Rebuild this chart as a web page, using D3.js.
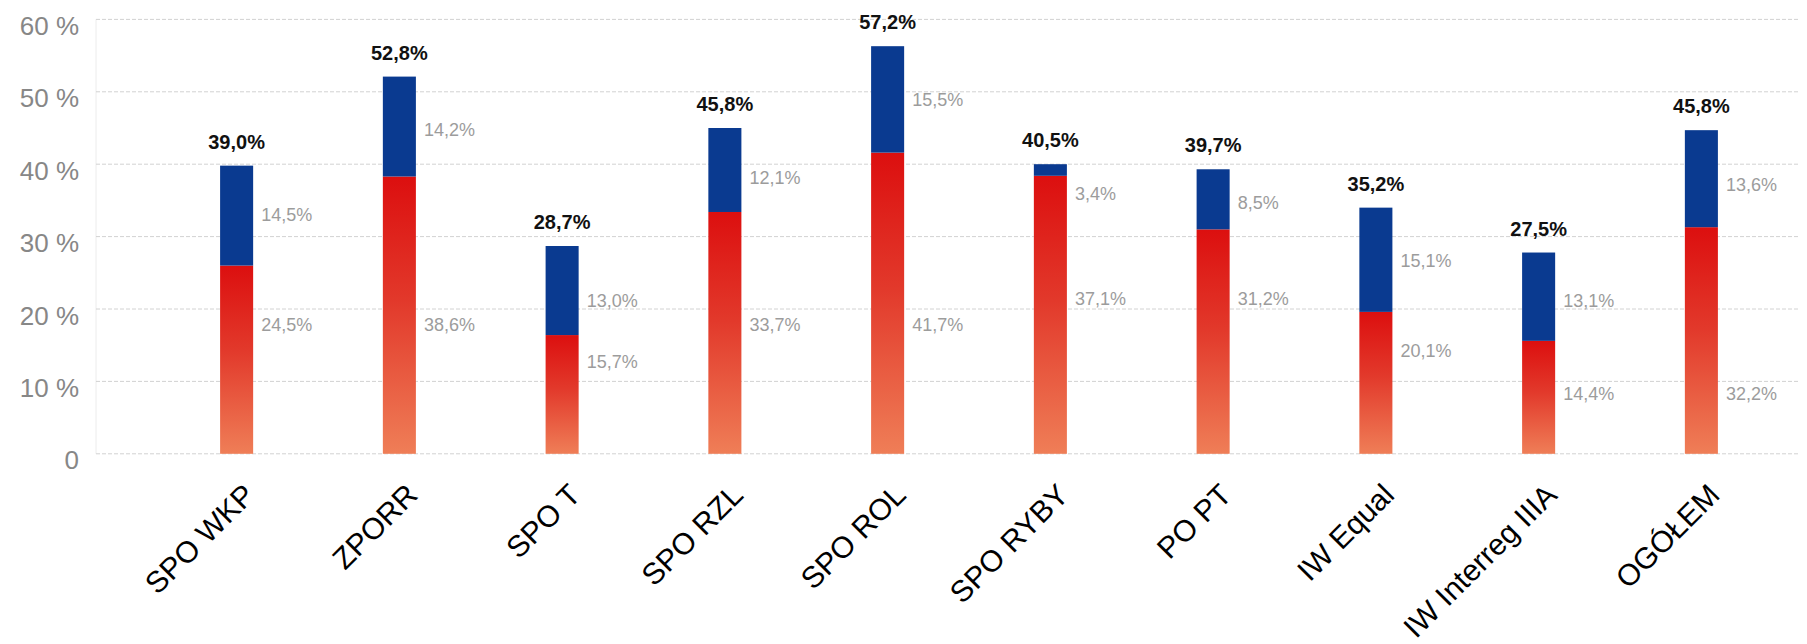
<!DOCTYPE html>
<html>
<head>
<meta charset="utf-8">
<script src="https://cdn.jsdelivr.net/npm/d3@7"></script>
<style>
  html, body { margin: 0; padding: 0; background: #fff; }
  svg { display: block; font-family: "Liberation Sans", Arial, sans-serif; }
</style>
</head>
<body>
<div id="chart"></div>
<script>
const categories = ["SPO WKP", "ZPORR", "SPO T", "SPO RZL", "SPO ROL", "SPO RYBY", "PO PT", "IW Equal", "IW Interreg IIIA", "OGÓŁEM"];
// drawn segment heights
const redValues = [26.0, 38.3, 16.4, 33.4, 41.6, 38.4, 31.0, 19.6, 15.6, 31.3];
const blueValues = [13.8, 13.8, 12.3, 11.6, 14.7, 1.6, 8.3, 14.4, 12.2, 13.4];
// printed labels
const redLabels = [24.5, 38.6, 15.7, 33.7, 41.7, 37.1, 31.2, 20.1, 14.4, 32.2];
const blueLabels = [14.5, 14.2, 13.0, 12.1, 15.5, 3.4, 8.5, 15.1, 13.1, 13.6];
const totalLabels = [39.0, 52.8, 28.7, 45.8, 57.2, 40.5, 39.7, 35.2, 27.5, 45.8];
// level (in %) where each gray label sits
const redLabelAt = [17.9, 17.9, 12.8, 17.9, 17.8, 21.5, 21.5, 14.3, 8.3, 8.3];
const blueLabelAt = [33.0, 44.8, 21.2, 38.2, 49.0, 35.9, 34.7, 26.7, 21.2, 37.2];
const yTicks = [0, 10, 20, 30, 40, 50, 60];

const width = 1807;
const height = 644;
const plotLeft = 96;
const plotRight = 1800;

const data = categories.map((c, i) => ({
    cat: c,
    red: redValues[i],
    blue: blueValues[i],
    redLabel: redLabels[i],
    blueLabel: blueLabels[i],
    total: totalLabels[i],
    redAt: redLabelAt[i],
    blueAt: blueLabelAt[i]
}));

const fmt = v => d3.format(".1f")(v).replace(".", ",") + "%";

const x = d3.scaleBand()
    .domain(categories)
    .range([155, 1783])
    .paddingInner(0.797)
    .paddingOuter(0.4);

const y = d3.scaleLinear()
    .domain([0, 60])
    .range([453.8, 19.4]);

const svg = d3.select("#chart").append("svg")
    .attr("width", width)
    .attr("height", height)
    .attr("viewBox", [0, 0, width, height]);

const defs = svg.append("defs");
const grad = defs.append("linearGradient")
    .attr("id", "redGrad")
    .attr("x1", 0).attr("y1", 0)
    .attr("x2", 0).attr("y2", 1);
grad.append("stop").attr("offset", "0%").attr("stop-color", "#dc0f0f");
grad.append("stop").attr("offset", "45%").attr("stop-color", "#e2392b");
grad.append("stop").attr("offset", "100%").attr("stop-color", "#ef7e57");

// faint left border of plot
svg.append("line")
    .attr("x1", plotLeft).attr("x2", plotLeft)
    .attr("y1", y(60)).attr("y2", y(0))
    .attr("stroke", "#ececec")
    .attr("stroke-width", 1);

// gridlines
svg.append("g")
    .attr("class", "grid")
    .selectAll("line")
    .data(yTicks)
    .join("line")
    .attr("x1", plotLeft)
    .attr("x2", plotRight)
    .attr("y1", d => y(d))
    .attr("y2", d => y(d))
    .attr("stroke", "#d2d2d2")
    .attr("stroke-width", 1)
    .attr("stroke-dasharray", "4,2");

// y axis
const yAxis = d3.axisLeft(y)
    .tickValues(yTicks)
    .tickSize(0)
    .tickPadding(0)
    .tickFormat(d => d === 0 ? "0" : d + " %");

svg.append("g")
    .attr("class", "y-axis")
    .attr("transform", "translate(79,0)")
    .call(yAxis)
    .call(g => g.select(".domain").remove())
    .selectAll("text")
    .attr("fill", "#878787")
    .attr("font-size", 26)
    .attr("font-family", "Liberation Sans, Arial, sans-serif")
    .attr("dy", "0.58em");

// bars
const bars = svg.append("g").attr("class", "bars");

bars.selectAll("rect.red")
    .data(data)
    .join("rect")
    .attr("class", "red")
    .attr("x", d => x(d.cat))
    .attr("width", x.bandwidth())
    .attr("y", d => y(d.red))
    .attr("height", d => y(0) - y(d.red))
    .attr("fill", "url(#redGrad)");

bars.selectAll("rect.blue")
    .data(data)
    .join("rect")
    .attr("class", "blue")
    .attr("x", d => x(d.cat))
    .attr("width", x.bandwidth())
    .attr("y", d => y(d.red + d.blue))
    .attr("height", d => y(d.red) - y(d.red + d.blue))
    .attr("fill", "#0a3a90");

// total labels
svg.append("g")
    .selectAll("text")
    .data(data)
    .join("text")
    .attr("x", d => x(d.cat) + x.bandwidth() / 2)
    .attr("y", d => y(d.red + d.blue) - 17)
    .attr("text-anchor", "middle")
    .attr("font-size", 20)
    .attr("font-weight", "bold")
    .attr("fill", "#111")
    .text(d => fmt(d.total));

// segment labels
const segLabels = svg.append("g")
    .attr("fill", "#9c9c9c")
    .attr("font-size", 18);

segLabels.selectAll("text.bl")
    .data(data)
    .join("text")
    .attr("class", "bl")
    .attr("x", d => x(d.cat) + x.bandwidth() + 8)
    .attr("y", d => y(d.blueAt))
    .attr("dy", "0.36em")
    .text(d => fmt(d.blueLabel));

segLabels.selectAll("text.rl")
    .data(data)
    .join("text")
    .attr("class", "rl")
    .attr("x", d => x(d.cat) + x.bandwidth() + 8)
    .attr("y", d => y(d.redAt))
    .attr("dy", "0.36em")
    .text(d => fmt(d.redLabel));

// x axis labels
const xAxis = d3.axisBottom(x).tickSize(0).tickPadding(0);
svg.append("g")
    .attr("class", "x-axis")
    .attr("transform", `translate(0,${y(0)})`)
    .call(xAxis)
    .call(g => g.select(".domain").remove())
    .selectAll("text")
    .attr("fill", "#000")
    .attr("font-size", 30)
    .attr("font-family", "Liberation Sans, Arial, sans-serif")
    .attr("text-anchor", "end")
    .attr("x", 0)
    .attr("y", 0)
    .attr("dy", 0)
    .attr("transform", "translate(20,43) rotate(-45)");
</script>
</body>
</html>
